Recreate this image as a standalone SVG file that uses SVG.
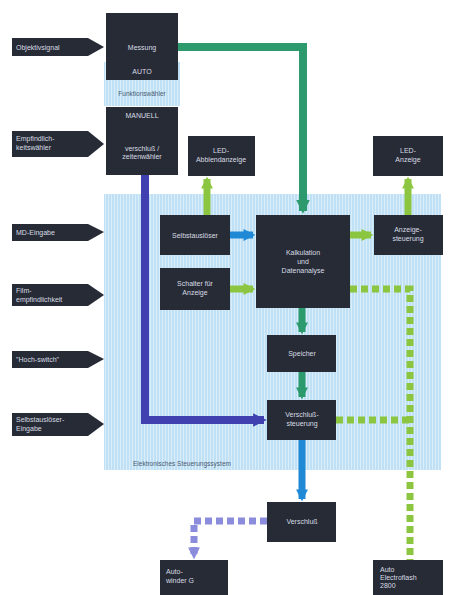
<svg xmlns="http://www.w3.org/2000/svg" width="455" height="595" viewBox="0 0 455 595">
<defs>
<pattern id="stripes" width="3" height="10" patternUnits="userSpaceOnUse">
<rect width="3" height="10" fill="#c0e1f5"/>
<rect width="1" height="10" fill="#daeefa"/>
</pattern>
<marker id="aG" viewBox="0 0 10 10" refX="8" refY="5" markerWidth="1.7" markerHeight="1.7" orient="auto"><path d="M0,0 L10,5 L0,10 z" fill="#2c9a6c"/></marker>
<marker id="aL" viewBox="0 0 10 10" refX="8" refY="5" markerWidth="1.7" markerHeight="1.7" orient="auto"><path d="M0,0 L10,5 L0,10 z" fill="#8cc640"/></marker>
<marker id="aB" viewBox="0 0 10 10" refX="8" refY="5" markerWidth="1.7" markerHeight="1.7" orient="auto"><path d="M0,0 L10,5 L0,10 z" fill="#2089d6"/></marker>
<marker id="aP" viewBox="0 0 10 10" refX="8" refY="5" markerWidth="1.7" markerHeight="1.7" orient="auto"><path d="M0,0 L10,5 L0,10 z" fill="#4040b0"/></marker>
<marker id="aV" viewBox="0 0 10 10" refX="8" refY="5" markerWidth="1.7" markerHeight="1.7" orient="auto"><path d="M0,0 L10,5 L0,10 z" fill="#8c8cdc"/></marker>
</defs>
<style>
.node rect{fill:#272b36}
.t{font-family:"Liberation Sans",Arial,sans-serif;font-size:7px;fill:#d8dce4;text-anchor:middle}
.tl{font-family:"Liberation Sans",Arial,sans-serif;font-size:7px;fill:#d8dce4;text-anchor:start}
.in polygon{fill:#272b36}
.c{fill:none;stroke-linejoin:miter}
</style>
<rect width="455" height="595" fill="#ffffff"/>
<rect x="104" y="194" width="337" height="276" fill="url(#stripes)"/>
<rect x="104" y="62" width="76" height="44" fill="url(#stripes)"/>
<text class="t" x="142" y="96" style="fill:#4a5a70;font-size:6.5px">Funktionswähler</text>
<text class="tl" x="133" y="466" style="fill:#4a5a70;font-size:6.5px">Elektronisches Steuerungssystem</text>

<g id="connectors">
<path class="c" d="M178,47 H303 V211" stroke="#2c9a6c" stroke-width="8" marker-end="url(#aG)"/>
<path class="c" d="M230,235 H253" stroke="#2089d6" stroke-width="7" marker-end="url(#aB)"/>
<path class="c" d="M207,215 V179" stroke="#8cc640" stroke-width="7" marker-end="url(#aL)"/>
<path class="c" d="M230,289 H253" stroke="#8cc640" stroke-width="7" marker-end="url(#aL)"/>
<path class="c" d="M350,235 H371" stroke="#8cc640" stroke-width="7" marker-end="url(#aL)"/>
<path class="c" d="M408,215 V179" stroke="#8cc640" stroke-width="7" marker-end="url(#aL)"/>
<path class="c" d="M302,308 V332" stroke="#2c9a6c" stroke-width="7" marker-end="url(#aG)"/>
<path class="c" d="M302,372 V397" stroke="#2c9a6c" stroke-width="7" marker-end="url(#aG)"/>
<path class="c" d="M350,289 H410 V560" stroke="#8cc640" stroke-width="7" stroke-dasharray="7,4"/>
<path class="c" d="M336,420 H410" stroke="#8cc640" stroke-width="7" stroke-dasharray="7,4"/>
<path class="c" d="M145,175 V420 H264" stroke="#4040b0" stroke-width="8" marker-end="url(#aP)"/>
<path class="c" d="M302,440 V499" stroke="#2089d6" stroke-width="7" marker-end="url(#aB)"/>
<path class="c" d="M267,521 H194 V557" stroke="#8c8cdc" stroke-width="7" stroke-dasharray="7,4" marker-end="url(#aV)"/>
</g>

<g id="in1" class="in"><polygon points="12,38 88,38 104,47 88,56 12,56"/><text class="tl" x="16" y="50">Objektivsignal</text></g>
<g id="in2" class="in"><polygon points="12,131 88,131 104,144 88,157 12,157"/><text class="tl" x="16" y="141">Empfindlich-</text><text class="tl" x="16" y="150">keitswähler</text></g>
<g id="in3" class="in"><polygon points="12,224 88,224 104,232 88,241 12,241"/><text class="tl" x="16" y="235">MD-Eingabe</text></g>
<g id="in4" class="in"><polygon points="12,284 88,284 104,295 88,306 12,306"/><text class="tl" x="16" y="293">Film-</text><text class="tl" x="16" y="302">empfindlichkeit</text></g>
<g id="in5" class="in"><polygon points="12,351 88,351 104,359 88,368 12,368"/><text class="tl" x="16" y="362">"Hoch-switch"</text></g>
<g id="in6" class="in"><polygon points="12,413 88,413 104,424 88,436 12,436"/><text class="tl" x="16" y="422">Selbstauslöser-</text><text class="tl" x="16" y="431">Eingabe</text></g>

<g id="messung" class="node"><rect x="106" y="13" width="72" height="67"/><text class="t" x="142" y="50">Messung</text><text class="t" x="142" y="74">AUTO</text></g>
<g id="manuell" class="node"><rect x="106" y="107" width="72" height="68"/><text class="t" x="142" y="118">MANUELL</text><text class="t" x="142" y="151">verschluß /</text><text class="t" x="142" y="159">zeitenwähler</text></g>
<g id="led1" class="node"><rect x="188" y="136" width="67" height="40"/><text class="t" x="221" y="153">LED-</text><text class="t" x="221" y="162">Abblendanzeige</text></g>
<g id="led2" class="node"><rect x="373" y="136" width="70" height="40"/><text class="t" x="408" y="153">LED-</text><text class="t" x="408" y="162">Anzeige</text></g>
<g id="selbst" class="node"><rect x="160" y="215" width="70" height="40"/><text class="t" x="195" y="238">Selbstauslöser</text></g>
<g id="schalter" class="node"><rect x="160" y="268" width="70" height="42"/><text class="t" x="195" y="286">Schalter für</text><text class="t" x="195" y="295">Anzeige</text></g>
<g id="kalk" class="node"><rect x="256" y="215" width="94" height="93"/><text class="t" x="303" y="255">Kalkulation</text><text class="t" x="303" y="264">und</text><text class="t" x="303" y="273">Datenanalyse</text></g>
<g id="anzst" class="node"><rect x="374" y="215" width="69" height="40"/><text class="t" x="408" y="232">Anzeige-</text><text class="t" x="408" y="241">steuerung</text></g>
<g id="speicher" class="node"><rect x="267" y="335" width="69" height="37"/><text class="t" x="302" y="356">Speicher</text></g>
<g id="verst" class="node"><rect x="267" y="400" width="69" height="40"/><text class="t" x="302" y="417">Verschluß-</text><text class="t" x="302" y="426">steuerung</text></g>
<g id="verschluss" class="node"><rect x="267" y="502" width="69" height="40"/><text class="t" x="302" y="524">Verschluß</text></g>
<g id="winder" class="node"><rect x="160" y="560" width="68" height="35"/><text class="tl" x="166" y="574">Auto-</text><text class="tl" x="166" y="583">winder G</text></g>
<g id="flash" class="node"><rect x="373" y="560" width="70" height="35"/><text class="tl" x="380" y="572">Auto</text><text class="tl" x="380" y="580">Electroflash</text><text class="tl" x="380" y="588">2800</text></g>
</svg>
